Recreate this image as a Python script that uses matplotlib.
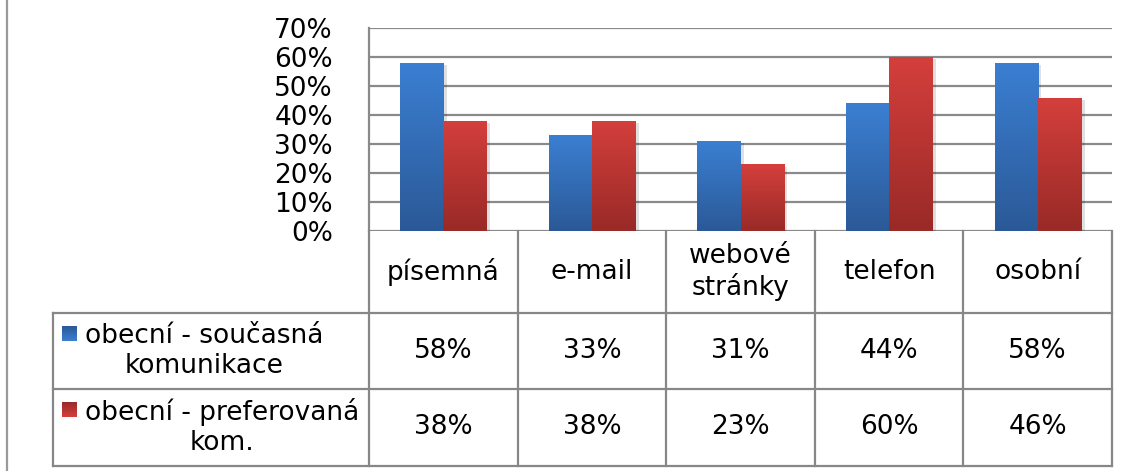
import numpy as np
import matplotlib
matplotlib.use('Agg')
import matplotlib.pyplot as plt
from matplotlib.colors import LinearSegmentedColormap

categories = ["písemná", "e-mail", "webové\nstránky", "telefon", "osobní"]
series_names = ["obecní - současná\nkomunikace", "obecní - preferovaná\nkom."]
current = [58, 33, 31, 44, 58]
preferred = [38, 38, 23, 60, 46]
yticks = [0, 10, 20, 30, 40, 50, 60, 70]

W, H = 1129, 471
plt.rcParams['font.family'] = ['DejaVu Sans']
plt.rcParams['font.size'] = 19

fig = plt.figure(figsize=(W / 100, H / 100), dpi=100)

# pixel geometry of plot area and table
px_left, px_right = 369, 1112
px_top, px_zero = 28, 231
tab_left, tab_bottom = 53, 466
row_lines = [313, 389, 466]

ax = fig.add_axes([px_left / W, 1 - px_zero / H, (px_right - px_left) / W, (px_zero - px_top) / H])
ax.set_xlim(-0.5, len(categories) - 0.5)
ax.set_ylim(0, 70)

grid_col = '#8a8a8a'
for t in yticks:
    ax.axhline(t, color=grid_col, lw=1.6, zorder=0)
ax.set_yticks(yticks)
ax.set_yticklabels([f"{t}%" for t in yticks])
ax.tick_params(axis='y', length=0, pad=26)
ax.set_xticks([])
for s in ['top', 'right', 'bottom']:
    ax.spines[s].set_visible(False)
ax.spines['left'].set_color(grid_col)
ax.spines['left'].set_linewidth(1.6)

blue_cm = LinearSegmentedColormap.from_list('b', ['#2b5997', '#3b7fd2'])
red_cm = LinearSegmentedColormap.from_list('r', ['#992a27', '#d43f3c'])
grad = np.linspace(0, 1, 256).reshape(-1, 1)

bw = 0.29
x = np.arange(len(categories))
for vals, off, cm in [(current, -bw / 2, blue_cm), (preferred, bw / 2, red_cm)]:
    # soft shadow
    ax.bar(x + off + 0.025, vals, bw, bottom=-0.8, color='#000000', alpha=0.12, zorder=1, lw=0)
    bars = ax.bar(x + off, vals, bw, color='none', zorder=2, lw=0)
    for b in bars:
        bx, by = b.get_x(), b.get_y()
        im = ax.imshow(grad, cmap=cm, origin='lower', aspect='auto',
                       extent=[bx, bx + b.get_width(), by, by + b.get_height()], zorder=3)
        im.set_clip_path(b)
ax.set_xlim(-0.5, len(categories) - 0.5)
ax.set_ylim(0, 70)

# table drawn in pixel coordinates
tab = fig.add_axes([0, 0, 1, 1])
tab.set_xlim(0, W)
tab.set_ylim(H, 0)
tab.axis('off')
line_col = '#878787'
lw = 1.6

col_w = (px_right - px_left) / len(categories)
bounds = [px_left + i * col_w for i in range(len(categories) + 1)]
centers = [px_left + (i + 0.5) * col_w for i in range(len(categories))]

for xb in bounds:
    tab.plot([xb, xb], [px_zero, tab_bottom], color=line_col, lw=lw)
tab.plot([tab_left, tab_left], [row_lines[0], tab_bottom], color=line_col, lw=lw)
for yr in row_lines:
    tab.plot([tab_left, px_right], [yr, yr], color=line_col, lw=lw)

# outer frame line on the left
tab.plot([7, 7], [0, H], color='#9a9a9a', lw=1.6)

for cx, lab in zip(centers, categories):
    tab.text(cx, (px_zero + row_lines[0]) / 2, lab, ha='center', va='center', linespacing=1.15)

rows = [(current, blue_cm), (preferred, red_cm)]
for r, ((vals, cm), name) in enumerate(zip(rows, series_names)):
    y0, y1 = row_lines[r], row_lines[r + 1]
    yc = (y0 + y1) / 2
    for cx, v in zip(centers, vals):
        tab.text(cx, yc, f"{v}%", ha='center', va='center')
    # legend key
    key_top = y0 + 13
    tab.imshow(grad, cmap=cm, origin='upper', aspect='auto',
               extent=[62, 77, key_top + 15, key_top], zorder=3)
    tab.text(222 if r else 204, yc, name, ha='center', va='center', linespacing=1.2)

tab.set_xlim(0, W)
tab.set_ylim(H, 0)

fig.savefig("out.png", dpi=100)
